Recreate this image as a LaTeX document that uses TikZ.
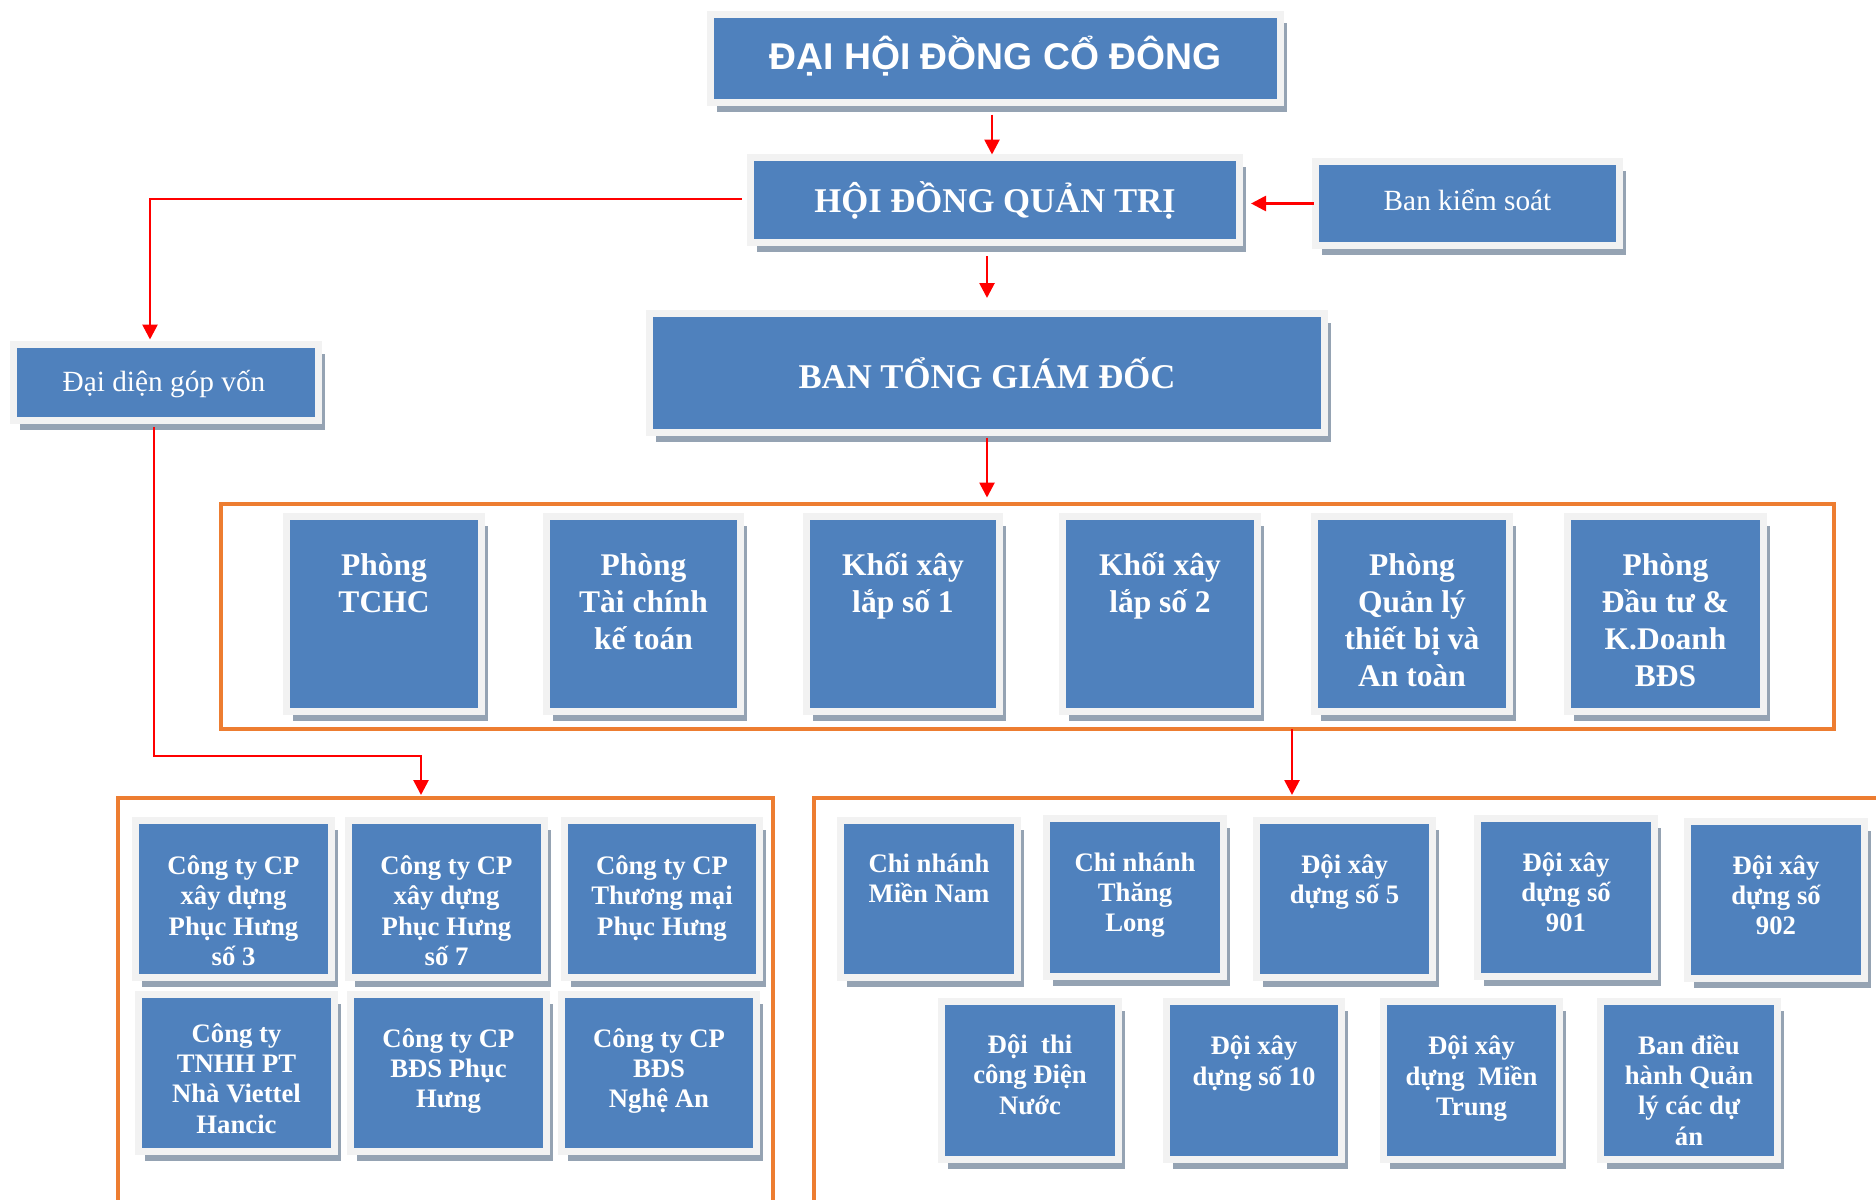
\documentclass[tikz,border=0pt]{standalone}
\usepackage{fontspec}
\setmainfont{Liberation Serif}
\newfontfamily\arialfont{Liberation Sans}
\usetikzlibrary{shadows,arrows.meta}
\definecolor{boxblue}{HTML}{4F81BD}
\definecolor{framegray}{HTML}{F2F2F2}
\definecolor{shadowc}{HTML}{95A3B3}
\definecolor{orangec}{HTML}{ED7D31}
\definecolor{redc}{HTML}{FF0000}
\newcommand\mystrut{\rule{0pt}{1em}}
\tikzset{
  ubox/.style={fill=boxblue, draw=framegray, line width=7pt, inner sep=0pt, outer sep=0pt,
    drop shadow={shadow xshift=6.5pt, shadow yshift=-9pt, fill=shadowc, opacity=1}},
  oframe/.style={draw=orangec, line width=4.3pt, inner sep=0pt, outer sep=0pt},
  arr/.style={draw=redc, line width=2.7pt, -{Triangle[length=15pt,width=15pt]}},
  ttitle/.style={text=white, inner sep=0pt, anchor=base, font=\arialfont\bfseries\fontsize{37.3}{42}\selectfont},
  tbig/.style={text=white, inner sep=0pt, anchor=base, font=\bfseries\fontsize{34.7}{40}\selectfont},
  treg/.style={text=white, inner sep=0pt, anchor=base, font=\fontsize{29.3}{34}\selectfont},
  tdept/.style={text=white, inner sep=0pt, anchor=north, align=center, font=\bfseries\fontsize{31.5}{37}\selectfont},
  tsmall/.style={text=white, inner sep=0pt, anchor=north, align=center, font=\bfseries\fontsize{26.7}{30.3}\selectfont},
}
\begin{document}
\begin{tikzpicture}[x=1pt,y=-1pt]
\useasboundingbox (0,0) rectangle (1876,1199);
\fill[white] (0,0) rectangle (1876,1199);
\clip (0,0) rectangle (1876,1199);

% top boxes
\node[ubox, minimum width=570pt, minimum height=88pt] (dh) at (995.5,58.5) {};
\node[ubox, minimum width=489pt, minimum height=85pt] (hd) at (995,200) {};
\node[ubox, minimum width=304pt, minimum height=84pt] (bks) at (1467.5,203.5) {};
\node[ubox, minimum width=305pt, minimum height=76pt] (dd) at (166,382.5) {};
\node[ubox, minimum width=675pt, minimum height=119pt] (btgd) at (987,373) {};

% orange frames
\node[oframe, minimum width=1613pt, minimum height=225pt] (o1) at (1027.5,616.5) {};
\node[oframe, minimum width=655pt, minimum height=500pt] (o2) at (445.5,1048) {};
\node[oframe, minimum width=1200pt, minimum height=500pt] (o3) at (1414,1048) {};

% departments
\node[ubox, minimum width=195pt, minimum height=195pt] (p1) at (384,614) {};
\node[ubox, minimum width=194pt, minimum height=195pt] (p2) at (643.5,614) {};
\node[ubox, minimum width=193pt, minimum height=195pt] (p3) at (903,614) {};
\node[ubox, minimum width=195pt, minimum height=195pt] (p4) at (1160,614) {};
\node[ubox, minimum width=195pt, minimum height=195pt] (p5) at (1412,614) {};
\node[ubox, minimum width=196pt, minimum height=195pt] (p6) at (1665.5,614) {};

% left companies
\node[ubox, minimum width=196pt, minimum height=157pt] (a1) at (233.5,899) {};
\node[ubox, minimum width=196pt, minimum height=157pt] (a2) at (446.5,899) {};
\node[ubox, minimum width=195pt, minimum height=157pt] (a3) at (662,899) {};
\node[ubox, minimum width=196pt, minimum height=157pt] (b1) at (236.5,1073) {};
\node[ubox, minimum width=196pt, minimum height=157pt] (b2) at (448.5,1073) {};
\node[ubox, minimum width=195pt, minimum height=157pt] (b3) at (659,1073) {};

% right units
\node[ubox, minimum width=177pt, minimum height=157pt] (c1) at (929,899) {};
\node[ubox, minimum width=177pt, minimum height=158pt] (c2) at (1135,897.5) {};
\node[ubox, minimum width=176pt, minimum height=157pt] (c3) at (1344.5,899) {};
\node[ubox, minimum width=177pt, minimum height=158pt] (c4) at (1566,897.5) {};
\node[ubox, minimum width=177pt, minimum height=157pt] (c5) at (1776,900) {};
\node[ubox, minimum width=177pt, minimum height=158pt] (d1) at (1030,1080.5) {};
\node[ubox, minimum width=175pt, minimum height=158pt] (d2) at (1254,1080.5) {};
\node[ubox, minimum width=176pt, minimum height=158pt] (d3) at (1471.5,1080.5) {};
\node[ubox, minimum width=177pt, minimum height=158pt] (d4) at (1689,1080.5) {};

% connectors
\draw[arr, shorten >=3pt] ([xshift=-3.5pt,yshift=-12pt]dh.south) -- ([xshift=-3pt]hd.north);
\draw[arr, shorten >=11.5pt] ([xshift=-2pt]bks.west) -- (bks.west -| hd.east);
\draw[arr, shorten >=5pt] ([xshift=-8.5pt,yshift=1pt]hd.west) -| ([xshift=-16pt]dd.north);
\draw[arr, shorten >=15.5pt] ([yshift=-13.5pt]hd.south -| btgd.north) -- (btgd.north);
\draw[arr, shorten >=6.5pt] ([yshift=-5pt]btgd.south) -- (btgd.south |- o1.north);
\draw[arr, shorten >=3pt] ([xshift=264.5pt]o1.south) -- ([xshift=264.5pt]o1.south |- o2.north);
\coordinate (c1corner) at (421,756);
\draw[arr, shorten >=3pt] ([xshift=-12pt,yshift=-6.5pt]dd.south) |- (c1corner) -- (c1corner |- o2.north);

% texts
\node[ttitle] (tdh) at ([yshift=-10.9pt]dh.center) {ĐẠI HỘI ĐỒNG CỔ ĐÔNG};
\node[tbig] (thd) at ([yshift=-12.5pt]hd.center) {HỘI ĐỒNG QUẢN TRỊ};
\node[tbig] (tbtgd) at ([yshift=-15.5pt]btgd.center) {BAN TỔNG GIÁM ĐỐC};
\node[treg] (tbks) at ([yshift=-7pt]bks.center) {Ban kiểm soát};
\node[treg] (tdd) at ([yshift=-8.5pt,xshift=-2pt]dd.center) {Đại diện góp vốn};

\node[tdept] (tp1) at ([yshift=-27pt]p1.north) {\mystrut Phòng\\TCHC};
\node[tdept] (tp2) at ([yshift=-27pt]p2.north) {\mystrut Phòng\\Tài chính\\kế toán};
\node[tdept] (tp3) at ([yshift=-27pt]p3.north) {\mystrut Khối xây\\lắp số 1};
\node[tdept] (tp4) at ([yshift=-27pt]p4.north) {\mystrut Khối xây\\lắp số 2};
\node[tdept] (tp5) at ([yshift=-27pt]p5.north) {\mystrut Phòng\\Quản lý\\thiết bị và\\An toàn};
\node[tdept] (tp6) at ([yshift=-27pt]p6.north) {\mystrut Phòng\\Đầu tư \&\\K.Doanh\\BĐS};

\node[tsmall] (ta1) at ([yshift=-27pt]a1.north) {\mystrut Công ty CP\\xây dựng\\Phục Hưng\\số 3};
\node[tsmall] (ta2) at ([yshift=-27pt]a2.north) {\mystrut Công ty CP\\xây dựng\\Phục Hưng\\số 7};
\node[tsmall] (ta3) at ([yshift=-27pt]a3.north) {\mystrut Công ty CP\\Thương mại\\Phục Hưng};
\node[tsmall] (tb1) at ([yshift=-20.8pt]b1.north) {\mystrut Công ty\\TNHH PT\\Nhà Viettel\\Hancic};
\node[tsmall] (tb2) at ([yshift=-25.8pt]b2.north) {\mystrut Công ty CP\\BĐS Phục\\Hưng};
\node[tsmall] (tb3) at ([yshift=-25.8pt]b3.north) {\mystrut Công ty CP\\BĐS\\Nghệ An};

\node[tsmall] (tc1) at ([yshift=-25pt]c1.north) {\mystrut Chi nhánh\\Miền Nam};
\node[tsmall] (tc2) at ([yshift=-25.8pt]c2.north) {\mystrut Chi nhánh\\Thăng\\Long};
\node[tsmall] (tc3) at ([yshift=-25.8pt]c3.north) {\mystrut Đội xây\\dựng số 5};
\node[tsmall] (tc4) at ([yshift=-25.8pt]c4.north) {\mystrut Đội xây\\dựng số\\901};
\node[tsmall] (tc5) at ([yshift=-25.8pt]c5.north) {\mystrut Đội xây\\dựng số\\902};
\node[tsmall] (td1) at ([yshift=-25pt]d1.north) {\mystrut Đội\ \ thi\\công Điện\\Nước};
\node[tsmall] (td2) at ([yshift=-26.5pt]d2.north) {\mystrut Đội xây\\dựng số 10};
\node[tsmall] (td3) at ([yshift=-26.5pt]d3.north) {\mystrut Đội xây\\dựng\ \ Miền\\Trung};
\node[tsmall] (td4) at ([yshift=-25.8pt]d4.north) {\mystrut Ban điều\\hành Quản\\lý các dự\\án};
\end{tikzpicture}
\end{document}
